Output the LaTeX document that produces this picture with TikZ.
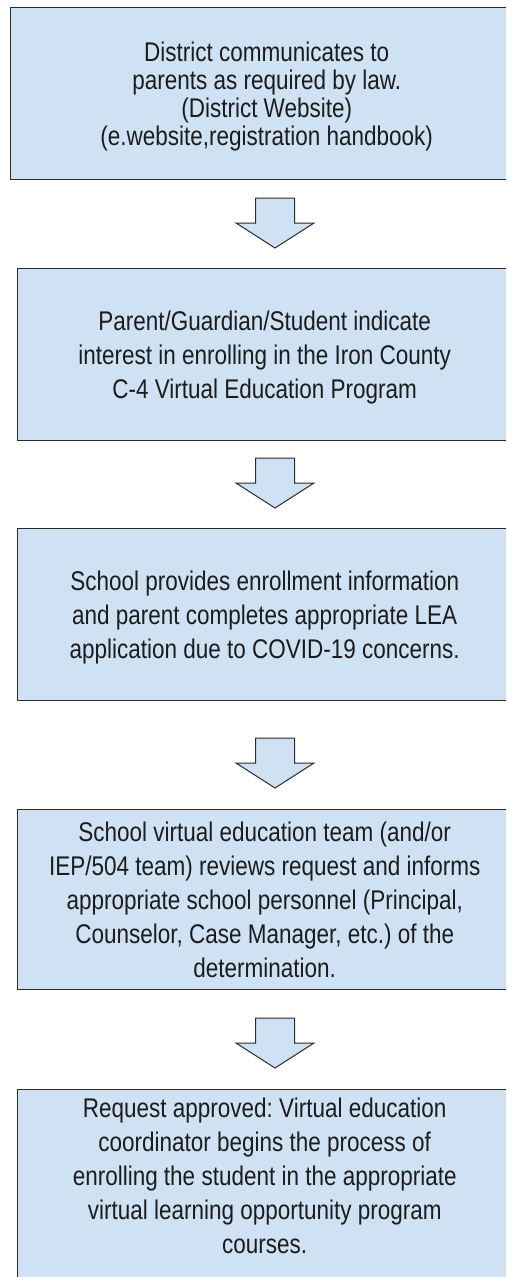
\documentclass[tikz,border=0pt]{standalone}
\usepackage{fontspec}
\setmainfont{Liberation Sans}[FakeStretch=0.833]
\definecolor{boxfill}{HTML}{CFE2F3}
\definecolor{boxline}{HTML}{2B2B2B}
\definecolor{txt}{HTML}{1C1C1C}
\frenchspacing
\begin{document}
\begin{tikzpicture}[x=1pt,y=-1pt,
  stepbox/.style={draw=boxline, line width=1.4pt, fill=boxfill, rectangle,
    anchor=north west, align=center, text=txt, inner sep=0pt, text depth=0pt,
    font=\fontsize{27}{34}\selectfont},
  blockarrow/.style={draw=boxline, line width=1pt, fill=boxfill, line join=miter},
  downarrow/.pic={\draw[blockarrow] (-19.5,0) -- (19.5,0) -- (19.5,25) -- (39,25)
    -- (0,50) -- (-39,25) -- (-19.5,25) -- cycle;}]
\clip (0,0) rectangle (506,1277);
\fill[white] (0,0) rectangle (506,1277);
\node[stepbox, minimum width=512pt, minimum height=172pt,
      font=\fontsize{27}{28.3}\selectfont] (b1) at (10,7)
  {District communicates to\\parents as required by law.\\(District Website)\\(e.website,registration handbook)};
\node[stepbox, minimum width=494pt, minimum height=172pt] (b2) at (17,268)
  {Parent/Guardian/Student indicate\\interest in enrolling in the Iron County\\C-4 Virtual Education Program};
\node[stepbox, minimum width=494pt, minimum height=172pt] (b3) at (17,528)
  {School provides enrollment information\\and parent completes appropriate LEA\\application due to COVID-19 concerns.};
\node[stepbox, minimum width=494pt, minimum height=180pt] (b4) at (17,809)
  {School virtual education team (and/or\\IEP/504 team) reviews request and informs\\appropriate school personnel (Principal,\\Counselor, Case Manager, etc.) of the\\determination.};
\node[stepbox, minimum width=494pt, inner ysep=8pt, text depth=40pt] (b5) at (17,1089)
  {Request approved: Virtual education\\coordinator begins the process of\\enrolling the student in the appropriate\\virtual learning opportunity program\\courses.};
\pic (a1) at (275,198) {downarrow};
\pic (a2) at (275,458) {downarrow};
\pic (a3) at (275,738) {downarrow};
\pic (a4) at (275,1018) {downarrow};
\end{tikzpicture}
\end{document}
